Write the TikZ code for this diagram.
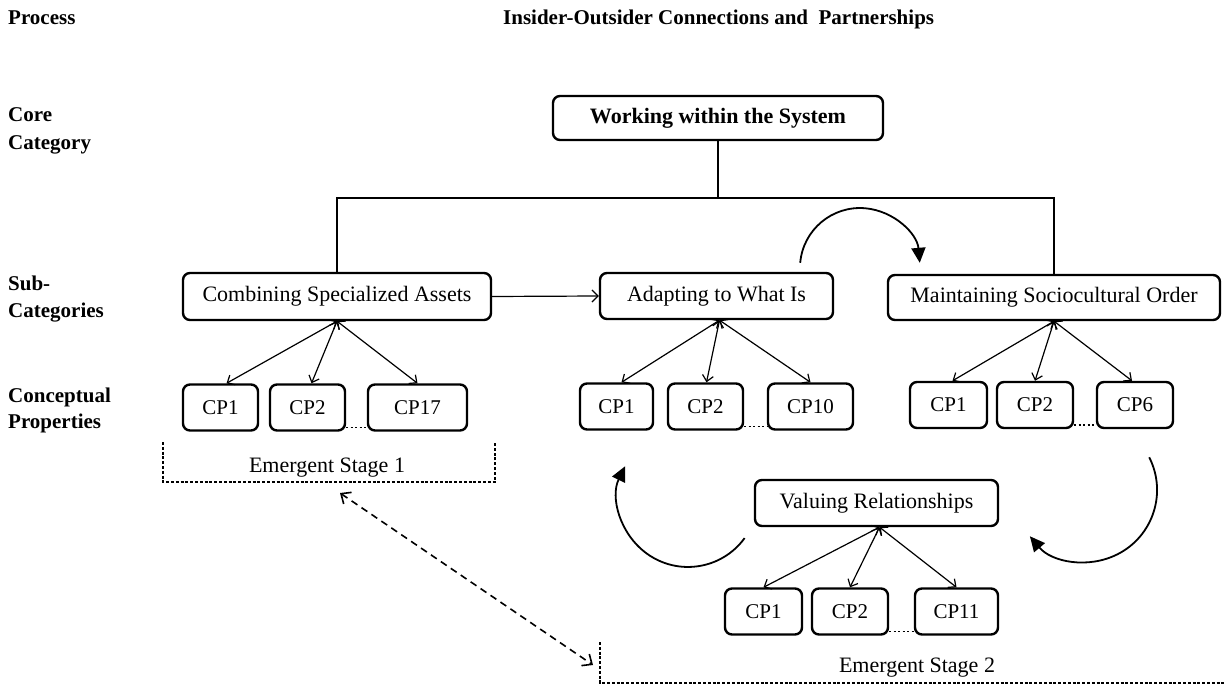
\documentclass[tikz,border=0pt]{standalone}
\usepackage{fontspec}
\setmainfont{Liberation Serif}
\usetikzlibrary{arrows.meta}
\begin{document}
\begin{tikzpicture}[x=1pt,y=-1pt,
  txt/.style={font=\fontsize{22}{26}\selectfont, inner sep=0pt},
  lbl/.style={txt, font=\fontsize{21}{25}\selectfont\bfseries, anchor=base west},
  box/.style={draw, line width=2.4pt, rounded corners=7pt, inner sep=0pt,
              font=\fontsize{22}{26}\selectfont},
  cp/.style={box, minimum height=46pt, font=\fontsize{21}{25}\selectfont},
  tree/.style={line width=2.6pt},
  link/.style={line width=1.2pt, -{Straight Barb[length=6pt,width=12pt]}},
  dbl/.style={line width=1.2pt, {Straight Barb[length=6pt,width=11pt]}-{Straight Barb[length=6pt,width=11pt]}},
  dots/.style={line width=1.5pt, dash pattern=on 2pt off 2.5pt},
  bracket/.style={line width=1.1pt, dash pattern=on 3pt off 1.8pt},
  stagelink/.style={line width=1.6pt, dash pattern=on 7pt off 5pt,
     {Straight Barb[length=8pt,width=14pt]}-{Straight Barb[length=8pt,width=14pt]}},
  cycle/.style={line width=1.8pt, -{Triangle[length=15pt,width=14pt]}}]

\useasboundingbox (0,0) rectangle (1225,684);

% headings and row labels
\node[lbl] (hProc) at (8,25) {Process};
\node[lbl] (hTitle) at (503,25) {Insider-Outsider Connections and\ \ Partnerships};
\node[lbl] (lCore1) at (8,122) {Core};
\node[lbl] (lCore2) at (8,150) {Category};
\node[lbl] (lSub1) at (8,291) {Sub-};
\node[lbl] (lSub2) at (8,318) {Categories};
\node[lbl] (lCp1) at (8,402) {Conceptual};
\node[lbl] (lCp2) at (8,428) {Properties};

% core category and sub-categories
\node[box, minimum width=330pt, minimum height=44pt, font=\fontsize{22}{26}\selectfont\bfseries]
  (core) at (718,118) {Working within the System};
\node[box, minimum width=308pt, minimum height=47pt] (comb) at (337,296.5) {Combining Specialized Assets};
\node[box, minimum width=233pt, minimum height=46pt] (adapt) at (716.5,296) {Adapting to What Is};
\node[box, minimum width=332pt, minimum height=45pt] (maint) at (1054,297.5) {Maintaining Sociocultural Order};
\node[box, minimum width=243pt, minimum height=46pt] (val) at (876.5,503) {Valuing Relationships};

% conceptual properties
\node[cp, minimum width=75pt] (ga1) at (220.5,407.5) {CP1};
\node[cp, minimum width=75pt] (ga2) at (307.5,407.5) {CP2};
\node[cp, minimum width=99pt] (ga3) at (417.5,407.5) {CP17};

\node[cp, minimum width=73pt] (gb1) at (616.5,406.5) {CP1};
\node[cp, minimum width=75pt] (gb2) at (705.5,406.5) {CP2};
\node[cp, minimum width=85pt] (gb3) at (810.5,406.5) {CP10};

\node[cp, minimum width=77pt] (gc1) at (948.5,405) {CP1};
\node[cp, minimum width=76pt] (gc2) at (1035,405) {CP2};
\node[cp, minimum width=76pt] (gc3) at (1135,405) {CP6};

\node[cp, minimum width=77pt] (gd1) at (763.5,611.5) {CP1};
\node[cp, minimum width=76pt] (gd2) at (850,611.5) {CP2};
\node[cp, minimum width=83pt] (gd3) at (956.5,611.5) {CP11};

% tree from the core category
\coordinate (bar) at (718,198);
\draw[tree] (core.south) -- (bar);
\draw[tree] (comb.north) -- (comb.north |- bar) -- (maint.north |- bar) -- (maint.north);

% link between first two sub-categories
\draw[link] (comb.east) -- (adapt.west);

% sub-category to property links
\draw[dbl] (comb.south) -- ([xshift=6pt]ga1.north);
\draw[dbl] (comb.south) -- ([xshift=4pt]ga2.north);
\draw[dbl] (comb.south) -- (ga3.north);

\draw[dbl] ([xshift=3pt]adapt.south) -- ([xshift=5pt]gb1.north);
\draw[dbl] ([xshift=3pt]adapt.south) -- ([xshift=1pt]gb2.north);
\draw[dbl] ([xshift=3pt]adapt.south) -- (gb3.north);

\draw[dbl] (maint.south) -- ([xshift=4pt]gc1.north);
\draw[dbl] (maint.south) -- (gc2.north);
\draw[dbl] (maint.south) -- ([xshift=-3pt]gc3.north);

\draw[dbl] ([xshift=3pt]val.south) -- (gd1.north);
\draw[dbl] ([xshift=3pt]val.south) -- (gd2.north);
\draw[dbl] ([xshift=3pt]val.south) -- (gd3.north);

% elided properties
\draw[dots] ([yshift=4pt]ga2.south east) -- ([yshift=4pt]ga3.south west);
\draw[dots] ([yshift=4pt]gb2.south east) -- ([yshift=4pt]gb3.south west);
\draw[dots] ([yshift=4pt]gc2.south east) -- ([yshift=4pt]gc3.south west);
\draw[dots] ([yshift=4pt]gd2.south east) -- ([yshift=4pt]gd3.south west);

% emergent stages
\draw[bracket] (163,442) -- (163,482) -- (495,482) -- (495,442);
\node[txt, anchor=base] (st1) at (327,472) {Emergent Stage 1};
\draw[bracket] (600,642) -- (600,683) -- (1225,683);
\node[txt, anchor=base] (st2) at (917,672) {Emergent Stage 2};

\coordinate (sA) at (340,493);
\coordinate (sB) at (593,665);
\draw[stagelink] (sA) -- (sB);

% cycle arrows
\coordinate (topS) at (800.2,262.8);
\draw[cycle] (topS) arc[start angle=185, end angle=355, radius=60];
\coordinate (leftS) at (744.6,538.1);
\draw[cycle] (leftS) arc[start angle=36, end angle=206, radius=70];
\coordinate (rightS) at (1149.2,457.3);
\draw[cycle] (rightS) arc[start angle=-27, end angle=140, radius=72];
\end{tikzpicture}
\end{document}
